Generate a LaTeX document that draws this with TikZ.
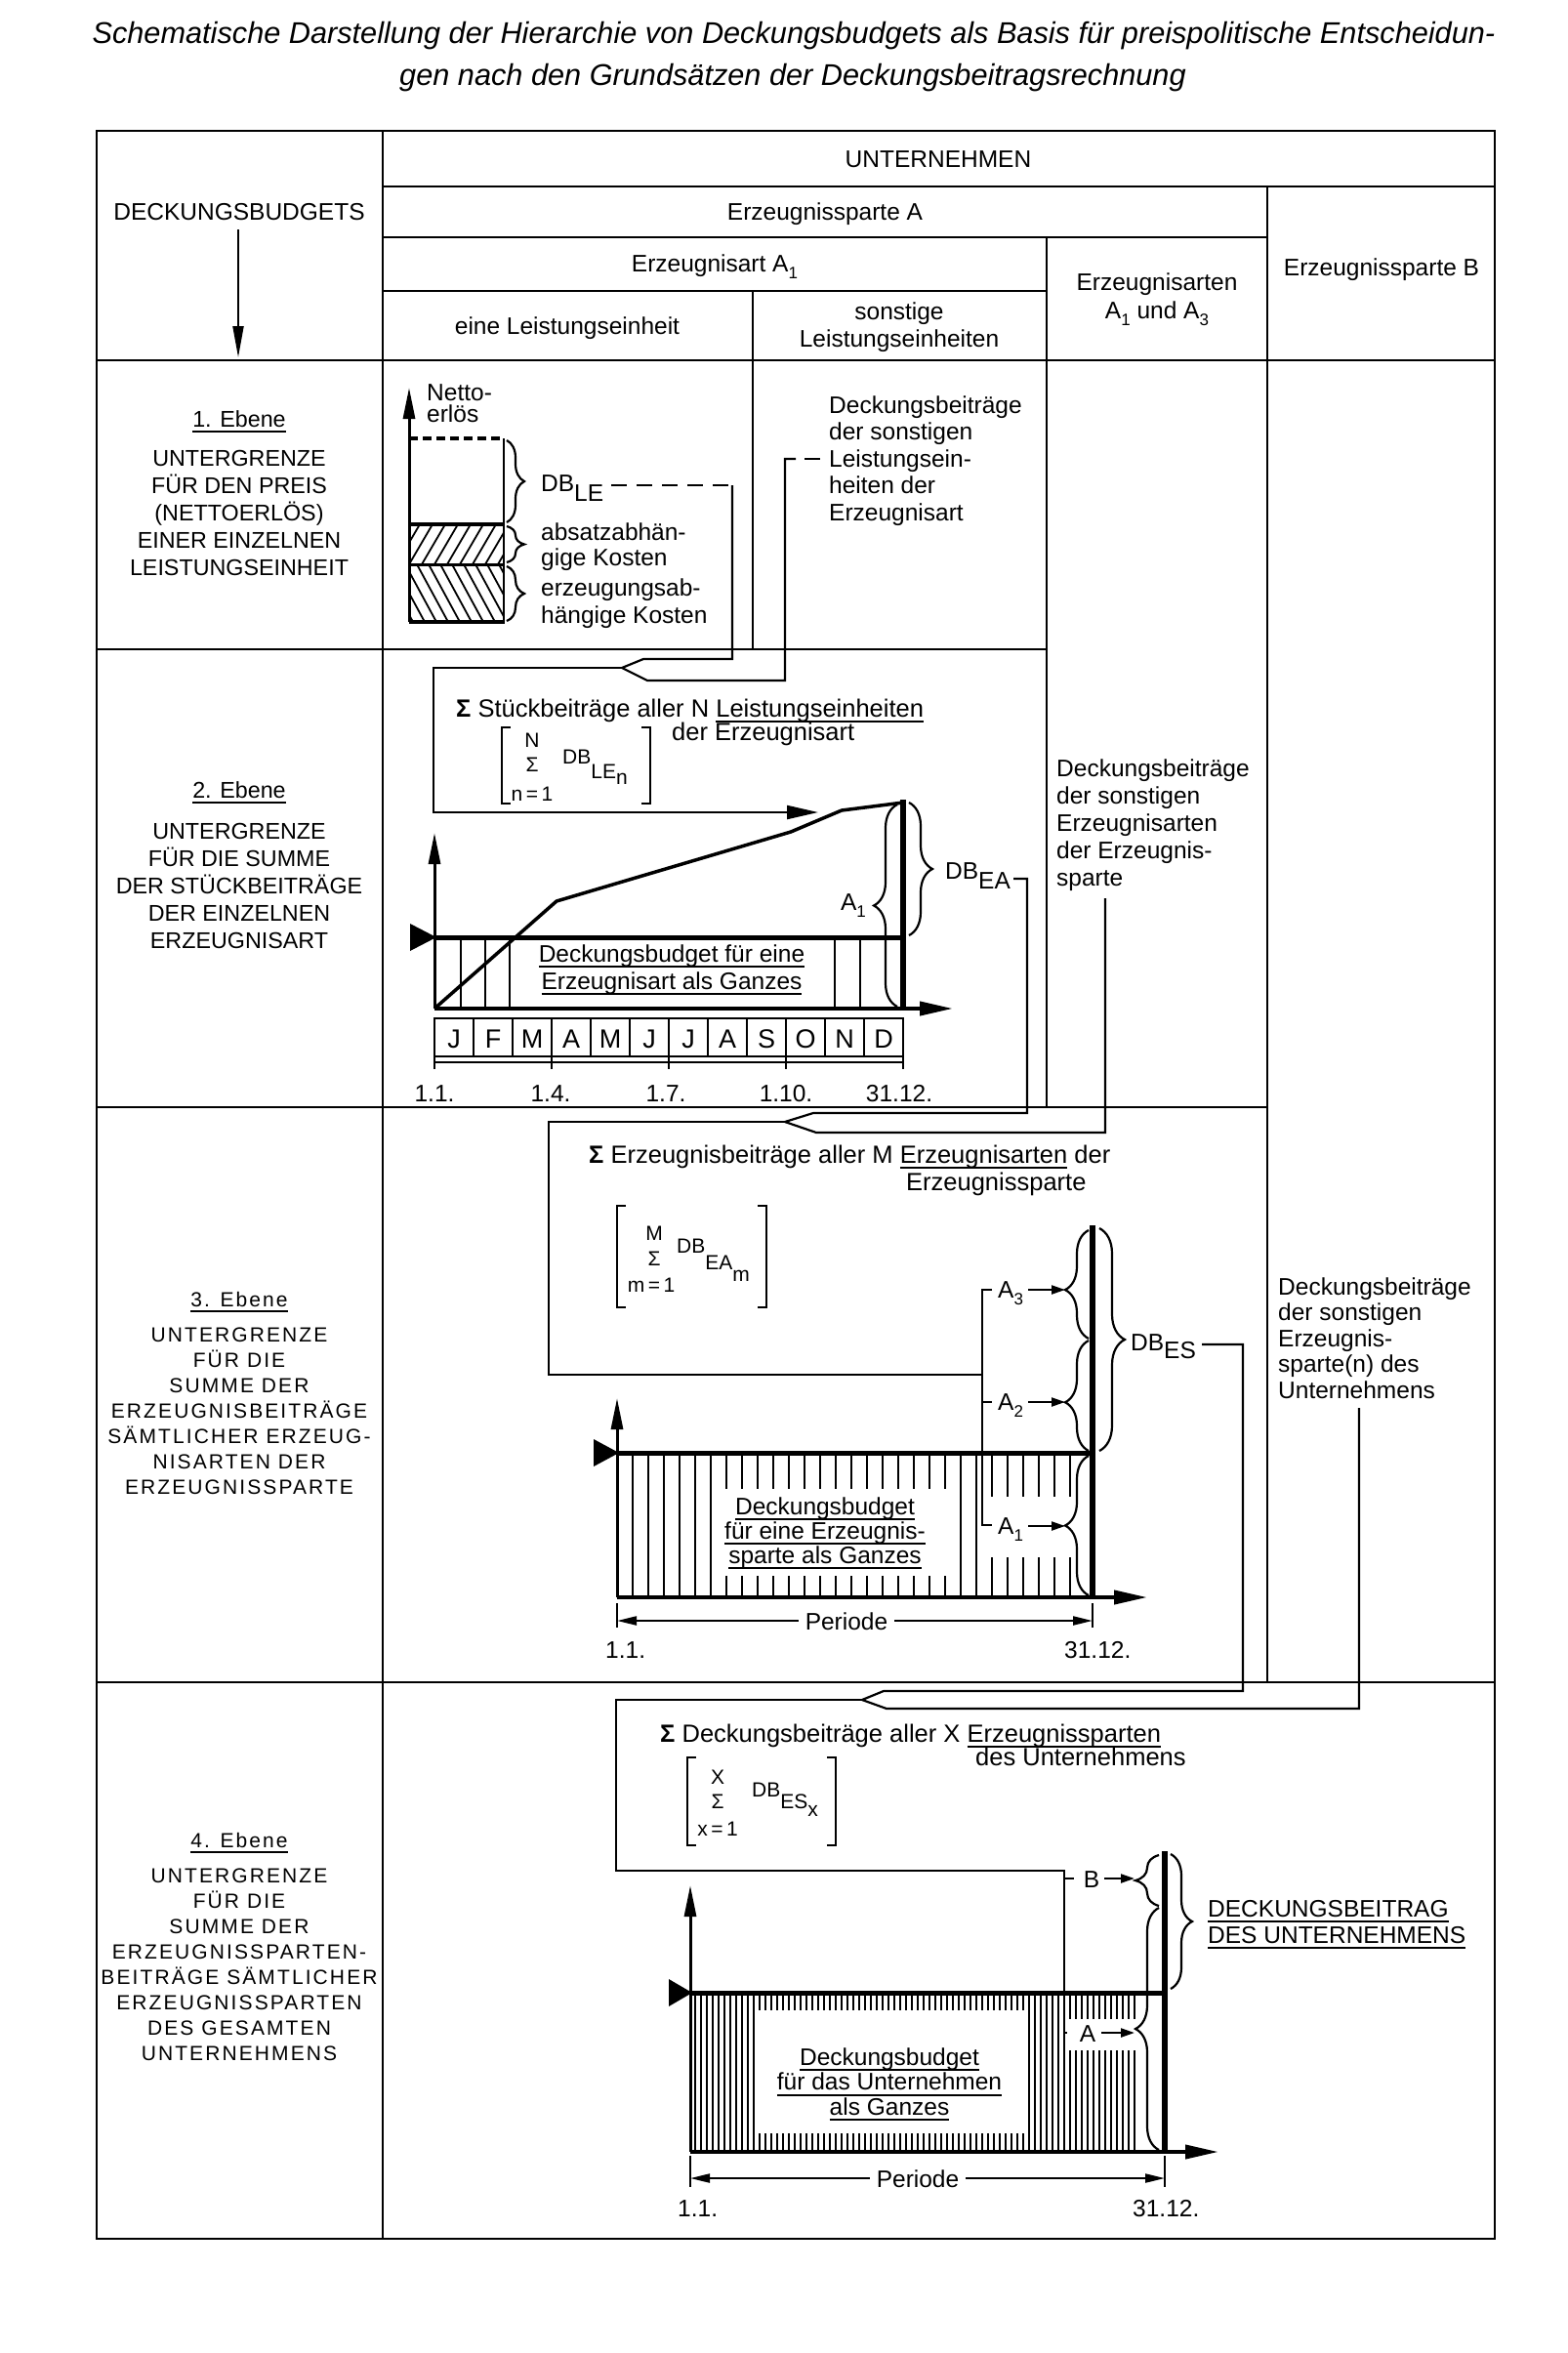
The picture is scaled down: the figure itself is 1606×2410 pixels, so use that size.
\documentclass[tikz,border=0pt]{standalone}
\usepackage{fontspec}
\setmainfont{Liberation Sans}
\newfontfamily\spacedfont[LetterSpace=10]{Liberation Sans}
\usetikzlibrary{arrows.meta,decorations.pathreplacing}
\newsavebox\ulbox
\newcommand\ulx[1]{\sbox\ulbox{#1}\rlap{\rule[-6pt]{\wd\ulbox}{1.8pt}}\usebox\ulbox}
\newcommand\sbs[1]{\raisebox{-0.3em}{\fontsize{17}{17}\selectfont #1}}
\begin{document}
\begin{tikzpicture}[x=1pt,y=-1pt,
  tl/.style={line width=2.6pt},
  ln/.style={line width=2.2pt},
  vbar/.style={line width=6.5pt},
  budg/.style={line width=5pt},
  yax/.style={line width=3pt,-{Triangle[length=32pt,width=12pt]}},
  xax/.style={line width=4pt,-{Triangle[length=34pt,width=14pt]}},
  sarr/.style={line width=2.2pt,-{Triangle[length=14pt,width=9pt]}},
  darr/.style={line width=2.2pt,{Triangle[length=20pt,width=9pt]}-{Triangle[length=20pt,width=9pt]}},
  brc/.style={line width=2.2pt,decorate},
  hline/.style={line width=1.8pt},
  txt/.style={font=\fontsize{24.5}{27.5}\selectfont,inner sep=0pt},
  sig/.style={font=\fontsize{25.5}{25.5}\selectfont,inner sep=0pt,anchor=base west},
  fx/.style={font=\fontsize{21}{21}\selectfont,inner sep=0pt},
  lvl/.style={font=\fontsize{23.3}{27.8}\selectfont,inner sep=0pt,align=center,anchor=base},
  lvs/.style={font=\spacedfont\fontsize{21}{26}\selectfont,inner sep=0pt,align=center,anchor=base},
  brk/.style={line width=2.6pt},
]
\useasboundingbox (0,0) rectangle (1606,2410);

% ---------- title
\node[font=\fontsize{30.7}{30.7}\selectfont\itshape,inner sep=0pt,anchor=base] (title1) at (813,44) {Schematische Darstellung der Hierarchie von Deckungsbudgets als Basis für preispolitische Entscheidun-};
\node[font=\fontsize{30.7}{30.7}\selectfont\itshape,inner sep=0pt,anchor=base] (title2) at (812,87) {gen nach den Grundsätzen der Deckungsbeitragsrechnung};

% ---------- table
\draw[tl] (99,134) rectangle (1531,2293);
\draw[tl] (392,134) -- (392,2293);
\draw[tl] (392,191) -- (1531,191);
\draw[tl] (392,243) -- (1298,243);
\draw[tl] (392,298) -- (1072,298);
\draw[tl] (99,369) -- (1531,369);
\draw[tl] (771,298) -- (771,665);
\draw[tl] (1072,243) -- (1072,1134);
\draw[tl] (1298,191) -- (1298,1723);
\draw[tl] (99,665) -- (1072,665);
\draw[tl] (99,1134) -- (1298,1134);
\draw[tl] (99,1723) -- (1531,1723);

% ---------- header (multi-line nodes: base anchor = last line)
\node[txt,anchor=base] (hU) at (961,171) {UNTERNEHMEN};
\node[txt,anchor=base] (hDB) at (245,225) {DECKUNGSBUDGETS};
\node[txt,anchor=base] (hEA) at (845,225) {Erzeugnissparte A};
\node[txt,anchor=base] (hEart) at (732,278) {Erzeugnisart A\sbs{1}};
\node[txt,anchor=base,align=center] (hEarten) at (1185,326) {Erzeugnisarten\\[1.5pt]A\sbs{1} und A\sbs{3}};
\node[txt,anchor=base] (hEB) at (1415,282) {Erzeugnissparte B};
\node[txt,anchor=base] (hLE) at (581,342) {eine Leistungseinheit};
\node[txt,anchor=base,align=center] (hsLE) at (921,355) {sonstige\\[0.5pt]Leistungseinheiten};
\coordinate (dbtop) at (244,235);
\coordinate (dbbot) at (244,366);
\draw[line width=2pt,-{Triangle[length=32pt,width=11pt]}] (dbtop) -- (dbbot);

% ---------- left column
\node[lvl] (e1) at (245,437) {\ulx{1. Ebene}};
\node[lvl] (e1t) at (245,589) {UNTERGRENZE\\FÜR DEN PREIS\\(NETTOERLÖS)\\EINER EINZELNEN\\LEISTUNGSEINHEIT};
\node[lvl] (e2) at (245,817) {\ulx{2. Ebene}};
\node[lvl] (e2t) at (245,971) {UNTERGRENZE\\FÜR DIE SUMME\\DER STÜCKBEITRÄGE\\DER EINZELNEN\\ERZEUGNISART};
\node[lvs] (e3) at (245,1338) {\ulx{3. Ebene}};
\node[lvs] (e3t) at (245,1530) {UNTERGRENZE\\FÜR DIE\\SUMME DER\\ERZEUGNISBEITRÄGE\\SÄMTLICHER ERZEUG-\\NISARTEN DER\\ERZEUGNISSPARTE};
\node[lvs] (e4) at (245,1892) {\ulx{4. Ebene}};
\node[lvs] (e4t) at (245,2110) {UNTERGRENZE\\FÜR DIE\\SUMME DER\\ERZEUGNISSPARTEN-\\BEITRÄGE SÄMTLICHER\\ERZEUGNISSPARTEN\\DES GESAMTEN\\UNTERNEHMENS};

% ---------- level 1
\draw[yax] (419,637) -- (419,397);
\node[txt,anchor=base west,align=left,font=\fontsize{24.5}{22}\selectfont] (netto) at (437,432) {Netto-\\erlös};
\begin{scope}
  \clip (419,537) rectangle (516,578);
  \foreach \x in {380,393,...,530} \draw[hline] (\x,578) -- (\x+24,537);
\end{scope}
\begin{scope}
  \clip (419,578) rectangle (516,637);
  \foreach \x in {355,367,...,520} \draw[hline] (\x,578) -- (\x+32,637);
\end{scope}
\draw[line width=4pt,dash pattern=on 9pt off 5pt] (419,449) -- (516,449);
\draw[tl] (516,449) -- (516,637);
\draw[line width=4pt] (419,537) -- (516,537);
\draw[line width=3pt] (419,578) -- (516,578);
\draw[line width=4pt] (419,637) -- (517,637);
\draw[brc,decoration={brace,amplitude=18pt}] (519,451) -- (519,535);
\draw[brc,decoration={brace,amplitude=18pt}] (519,539) -- (519,576);
\draw[brc,decoration={brace,amplitude=18pt}] (519,580) -- (519,636);
\node[txt,anchor=base west] (dble) at (554,503) {DB\raisebox{-10pt}{LE}};
\node[txt,anchor=base west,align=left,font=\fontsize{24.5}{26}\selectfont] (absk) at (554,579) {absatzabhän-\\gige Kosten};
\node[txt,anchor=base west,align=left,font=\fontsize{24.5}{28}\selectfont] (erzk) at (554,638) {erzeugungsab-\\hängige Kosten};
\node[txt,anchor=base west,align=left] (sLE) at (849,533) {Deckungsbeiträge\\der sonstigen\\Leistungsein-\\heiten der\\Erzeugnisart};

% ---------- connectors level 1 -> 2
\coordinate (m2) at (637,684);
\coordinate (c1a) at (626,497);
\coordinate (c1b) at (750,497);
\coordinate (c2a) at (840,470);
\coordinate (c2b) at (804,470);
\draw[ln,dash pattern=on 16pt off 10pt] (c1a) -- (c1b);
\draw[ln] (c1b) -- (750,675) -- (659,675) -- (m2);
\draw[ln] (824,470) -- (c2a);
\draw[ln] (815,470) -- (c2b) -- (804,697) -- (663,697) -- (m2);
\draw[ln,-{Triangle[length=32pt,width=14pt]}] (m2) -- (444,684) -- (444,832) -- (838,832);

% ---------- level 2
\node[sig] (sig2) at (467,734) {\textbf{Σ} Stückbeiträge aller N \ulx{Leistungseinheiten}};
\node[sig] (sig2b) at (688,758) {der Erzeugnisart};
\draw[brk] (523,745) -- (514,745) -- (514,823) -- (523,823);
\draw[brk] (657,745) -- (666,745) -- (666,823) -- (657,823);
\node[fx,anchor=base] (f2N) at (545,765) {N};
\node[fx,anchor=base] (f2S) at (545,790) {Σ};
\node[fx,anchor=base] (f2n) at (545,820) {n\,=\,1};
\node[fx,anchor=base west] (f2d) at (576,782) {DB\raisebox{-15pt}{LE\raisebox{-6pt}{n}}};

\foreach \x in {472,497,522,855,881} \draw[ln] (\x,960) -- (\x,1033);
\draw[budg] (445,960) -- (925,960);
\fill (420,946) -- (447,960) -- (420,974) -- cycle;
\draw[yax] (445,1033) -- (445,853);
\draw[xax] (445,1033) -- (976,1033);
\draw[line width=3.5pt,line join=round] (445,1033) -- (570,923) -- (810,852) -- (862,830) -- (925,822);
\draw[vbar] (925,1035) -- (925,819);
\draw[brc,decoration={brace,amplitude=24pt}] (919,1031) -- (919,824);
\node[txt,anchor=base east] (a1l2) at (887,932) {A\sbs{1}};
\draw[brc,decoration={brace,amplitude=24pt}] (931,822) -- (931,958);
\node[txt,anchor=base west] (dbea) at (968,900) {DB\raisebox{-10pt}{EA}};
\node[txt,anchor=base,align=center,font=\fontsize{24.5}{28}\selectfont] (db2t) at (688,1013) {\ulx{Deckungsbudget für eine}\\\ulx{Erzeugnisart als Ganzes}};

\foreach \i/\m in {0/J,1/F,2/M,3/A,4/M,5/J,6/J,7/A,8/S,9/O,10/N,11/D} {
  \draw[line width=2pt] (445+40*\i,1043) rectangle (485+40*\i,1082);
  \node[font=\fontsize{27}{27}\selectfont,inner sep=0pt,anchor=base] (mo\i) at (465+40*\i,1073) {\m};
}
\draw[ln] (445,1088) -- (925,1088);
\foreach \x in {445,565,685,805,925} \draw[ln] (\x,1082) -- (\x,1095);
\node[txt,anchor=base] (d2a) at (445,1128) {1.1.};
\node[txt,anchor=base] (d2b) at (564,1128) {1.4.};
\node[txt,anchor=base] (d2c) at (682,1128) {1.7.};
\node[txt,anchor=base] (d2d) at (805,1128) {1.10.};
\node[txt,anchor=base] (d2e) at (921,1128) {31.12.};

\node[txt,anchor=base west,align=left,font=\fontsize{24.5}{28}\selectfont] (sEA) at (1082,907) {Deckungsbeiträge\\der sonstigen\\Erzeugnisarten\\der Erzeugnis-\\sparte};

% ---------- connectors level 2 -> 3
\coordinate (m3) at (804,1149);
\draw[ln] (1038,900) -- (1052,900) -- (1052,1140) -- (833,1140) -- (m3);
\draw[ln] (1132,920) -- (1132,1160) -- (836,1160) -- (m3);
\draw[ln] (m3) -- (562,1149) -- (562,1408) -- (1006,1408);

% ---------- level 3
\node[sig] (sig3) at (603,1191) {\textbf{Σ} Erzeugnisbeiträge aller M \ulx{Erzeugnisarten} der};
\node[sig] (sig3b) at (928,1219) {Erzeugnissparte};
\draw[brk] (641,1235) -- (632,1235) -- (632,1339) -- (641,1339);
\draw[brk] (776,1235) -- (785,1235) -- (785,1339) -- (776,1339);
\node[fx,anchor=base] (f3M) at (670,1270) {M};
\node[fx,anchor=base] (f3S) at (670,1296) {Σ};
\node[fx,anchor=base] (f3m) at (667,1323) {m\,=\,1};
\node[fx,anchor=base west] (f3d) at (693,1283) {DB\raisebox{-17pt}{EA\raisebox{-12pt}{m}}};

\foreach \x in {648,664,...,1096} \draw[line width=1.8pt] (\x,1490) -- (\x,1634);
\fill[white] (729,1525) rectangle (977,1614);
\fill[white] (1010,1533) rectangle (1100,1595);
\draw[budg] (632,1488) -- (1119,1488);
\fill (608,1474) -- (634,1488) -- (608,1502) -- cycle;
\draw[yax] (632,1636) -- (632,1432);
\draw[xax] (632,1636) -- (1175,1636);
\draw[vbar] (1119,1638) -- (1119,1255);
\draw[ln] (1016,1321) -- (1006,1321) -- (1006,1562) -- (1016,1562);
\draw[ln] (1006,1436) -- (1016,1436);
\draw[brc,decoration={brace,amplitude=24pt,aspect=0.45}] (1115,1371) -- (1115,1260);
\draw[brc,decoration={brace,amplitude=24pt,aspect=0.44}] (1115,1486) -- (1115,1373);
\draw[brc,decoration={brace,amplitude=24pt}] (1115,1634) -- (1115,1491);
\draw[brc,decoration={brace,amplitude=26pt}] (1126,1258) -- (1126,1486);
\node[txt,anchor=base west] (a3) at (1022,1329) {A\sbs{3}};
\node[txt,anchor=base west] (a2) at (1022,1444) {A\sbs{2}};
\node[txt,anchor=base west] (a1) at (1022,1571) {A\sbs{1}};
\draw[sarr] (1053,1321) -- (1091,1321);
\draw[sarr] (1053,1436) -- (1091,1436);
\draw[sarr] (1053,1563) -- (1091,1563);
\node[txt,anchor=base west] (dbes) at (1158,1383) {DB\raisebox{-8pt}{ES}};
\node[txt,anchor=base,align=center,font=\fontsize{24.5}{25}\selectfont] (db3t) at (845,1601) {\ulx{Deckungsbudget}\\\ulx{für eine Erzeugnis-}\\\ulx{sparte als Ganzes}};
\draw[ln] (632,1642) -- (632,1667);
\draw[ln] (1119,1642) -- (1119,1667);
\draw[darr] (632,1660) -- (1119,1660);
\node[txt,anchor=base,fill=white,inner xsep=7pt,inner ysep=2pt] (per3) at (867,1669) {Periode};
\node[txt,anchor=base west] (d3a) at (620,1698) {1.1.};
\node[txt,anchor=base west] (d3b) at (1090,1698) {31.12.};

\node[txt,anchor=base west,align=left,font=\fontsize{24.5}{26.5}\selectfont] (sES) at (1309,1432) {Deckungsbeiträge\\der sonstigen\\Erzeugnis-\\sparte(n) des\\Unternehmens};

% ---------- connectors level 3 -> 4
\coordinate (m4) at (883,1741);
\draw[ln] (1231,1377) -- (1273,1377) -- (1273,1732) -- (905,1732) -- (m4);
\draw[ln] (1392,1442) -- (1392,1750) -- (908,1750) -- (m4);
\draw[ln] (m4) -- (631,1741) -- (631,1916) -- (1090,1916) -- (1090,2082) -- (1100,2082);
\draw[ln] (1090,1924) -- (1100,1924);

% ---------- level 4
\node[sig] (sig4) at (676,1784) {\textbf{Σ} Deckungsbeiträge aller X \ulx{Erzeugnissparten}};
\node[sig] (sig4b) at (999,1808) {des Unternehmens};
\draw[brk] (713,1800) -- (704,1800) -- (704,1890) -- (713,1890);
\draw[brk] (847,1800) -- (856,1800) -- (856,1890) -- (847,1890);
\node[fx,anchor=base] (f4X) at (735,1827) {X};
\node[fx,anchor=base] (f4S) at (735,1852) {Σ};
\node[fx,anchor=base] (f4x) at (735,1880) {x\,=\,1};
\node[fx,anchor=base west] (f4d) at (770,1840) {DB\raisebox{-12pt}{ES\raisebox{-8pt}{x}}};

\foreach \x in {712,718,...,1166} \draw[line width=1.5pt] (\x,2043) -- (\x,2202);
\fill[white] (773,2059) rectangle (1049,2185);
\fill[white] (1093,2068) rectangle (1172,2100);
\draw[budg] (707,2041) -- (1193,2041);
\fill (685,2027) -- (709,2041) -- (685,2055) -- cycle;
\draw[yax] (707,2204) -- (707,1931);
\draw[xax] (707,2204) -- (1248,2204);
\draw[vbar] (1193,2206) -- (1193,1896);
\draw[ln] (1090,2043) -- (1090,2082);
\draw[brc,decoration={brace,amplitude=24pt}] (1187,1952) -- (1187,1900);
\draw[brc,decoration={brace,amplitude=24pt}] (1187,2202) -- (1187,1954);
\draw[brc,decoration={brace,amplitude=22pt}] (1199,1899) -- (1199,2037);
\node[txt,anchor=base] (lb) at (1118,1933) {B};
\node[txt,anchor=base] (la) at (1114,2091) {A};
\draw[sarr] (1131,1924) -- (1162,1924);
\draw[sarr] (1128,2082) -- (1162,2082);
\node[txt,anchor=base west,align=left,font=\fontsize{24.5}{27}\selectfont] (dbu) at (1237,1990) {\ulx{DECKUNGSBEITRAG}\\\ulx{DES UNTERNEHMENS}};
\node[txt,anchor=base,align=center,font=\fontsize{24.5}{25.5}\selectfont] (db4t) at (911,2166) {\ulx{Deckungsbudget}\\\ulx{für das Unternehmen}\\\ulx{als Ganzes}};
\draw[ln] (707,2208) -- (707,2240);
\draw[ln] (1193,2208) -- (1193,2240);
\draw[darr] (707,2231) -- (1193,2231);
\node[txt,anchor=base,fill=white,inner xsep=7pt,inner ysep=2pt] (per4) at (940,2240) {Periode};
\node[txt,anchor=base west] (d4a) at (694,2270) {1.1.};
\node[txt,anchor=base west] (d4b) at (1160,2270) {31.12.};
\end{tikzpicture}
\end{document}
